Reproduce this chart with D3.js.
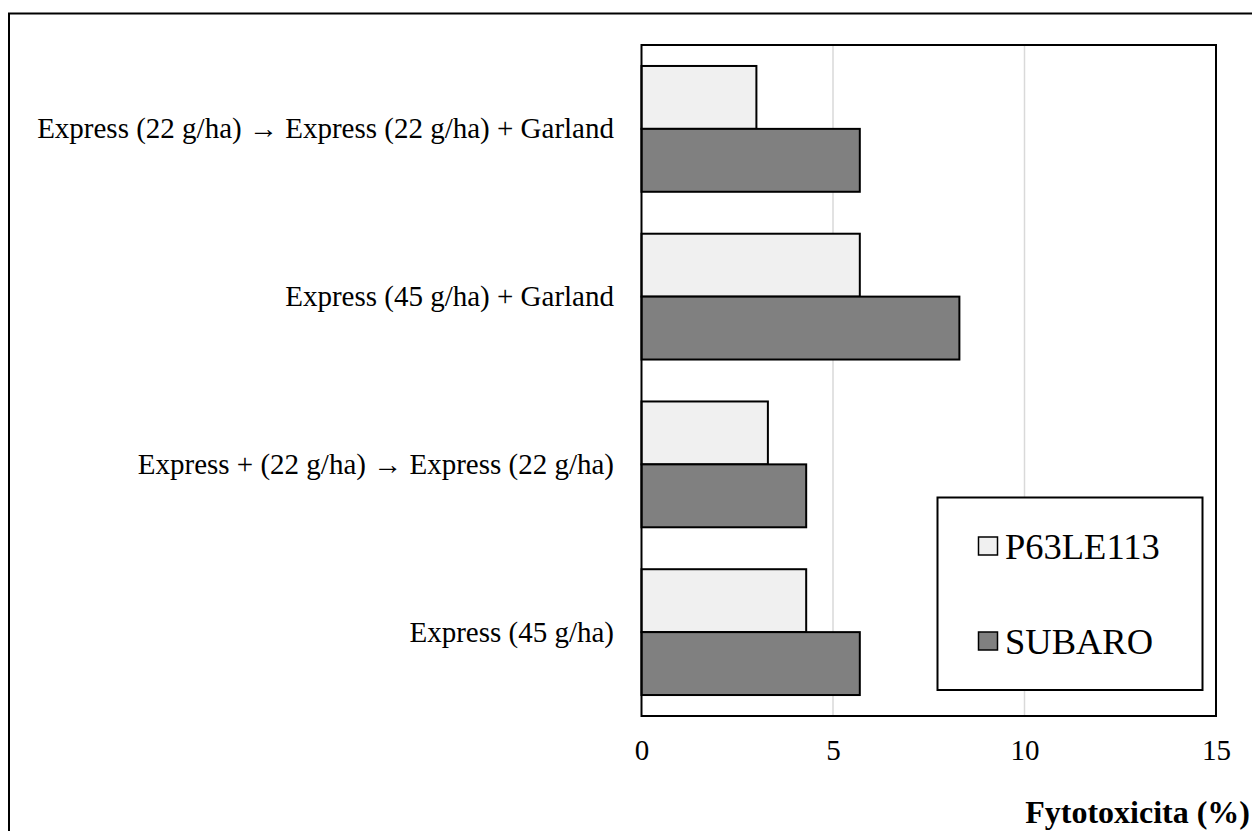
<!DOCTYPE html>
<html>
<head>
<meta charset="utf-8">
<script src="https://cdn.jsdelivr.net/npm/d3@7"></script>
<style>
  html, body { margin: 0; padding: 0; background: #fff; }
  svg { display: block; }
  text { font-family: "Liberation Serif", "Times New Roman", serif; fill: #000; }
</style>
</head>
<body>
<svg id="chart" width="1252" height="831"></svg>
<script>
const categories = [
  "Express (22 g/ha) \u2192 Express (22 g/ha) + Garland",
  "Express (45 g/ha) + Garland",
  "Express + (22 g/ha) \u2192 Express (22 g/ha)",
  "Express (45 g/ha)"
];
const seriesNames = ["P63LE113", "SUBARO"];
const p63le113 = [3.0, 5.7, 3.3, 4.3];
const subaro = [5.7, 8.3, 4.3, 5.7];
const xTicks = [0, 5, 10, 15];
const xTitle = "Fytotoxicita (%)";
const colors = ["#f0f0f0", "#808080"];

const seriesValues = [p63le113, subaro];
const svg = d3.select("#chart");

const plot = { left: 641.5, right: 1216, top: 45, bottom: 716 };

const x = d3.scaleLinear().domain([0, 15]).range([plot.left, plot.right]);
const y = d3.scaleBand().domain(categories).range([plot.top, plot.bottom])
  .paddingInner(0.25).paddingOuter(0.125);
const ySub = d3.scaleBand().domain(seriesNames).range([0, y.bandwidth()]).padding(0);

// outer border
svg.append("rect").attr("x", 9).attr("y", 13.5).attr("width", 1300).attr("height", 900)
  .attr("fill", "none").attr("stroke", "#000").attr("stroke-width", 2);

// gridlines
svg.append("g").selectAll("line").data(xTicks.filter(d => d > 0 && d < 15)).join("line")
  .attr("x1", d => x(d)).attr("x2", d => x(d))
  .attr("y1", plot.top).attr("y2", plot.bottom)
  .attr("stroke", "#d9d9d9").attr("stroke-width", 1.5);

// bars
const rows = categories.map((c, i) => ({ c, vals: seriesNames.map((s, j) => ({ s, v: seriesValues[j][i], j })) }));
const g = svg.append("g");
g.selectAll("g").data(rows).join("g")
  .attr("transform", d => `translate(0,${y(d.c)})`)
  .selectAll("rect").data(d => d.vals).join("rect")
  .attr("x", x(0)).attr("y", d => ySub(d.s))
  .attr("width", d => x(d.v) - x(0)).attr("height", ySub.bandwidth())
  .attr("fill", d => colors[d.j]).attr("stroke", "#000").attr("stroke-width", 2);

// plot frame
svg.append("rect").attr("x", plot.left).attr("y", plot.top)
  .attr("width", plot.right - plot.left).attr("height", plot.bottom - plot.top)
  .attr("fill", "none").attr("stroke", "#000").attr("stroke-width", 2);

// x axis tick labels
const xAxis = d3.axisBottom(x).tickValues(xTicks).tickSize(0).tickPadding(0).tickFormat(d3.format("d"));
const xa = svg.append("g").attr("transform", `translate(0,${plot.bottom})`).call(xAxis);
xa.select(".domain").remove();
xa.selectAll("text").attr("dy", null).attr("y", 44)
  .style("font-family", '"Liberation Serif", serif').style("font-size", "29px").attr("fill", "#000");

// y axis category labels
const yAxis = d3.axisLeft(y).tickSize(0).tickPadding(0);
const ya = svg.append("g").attr("transform", `translate(614,0)`).call(yAxis);
ya.select(".domain").remove();
ya.selectAll("text").attr("x", 0).attr("dy", "0.33em")
  .style("font-family", '"Liberation Serif", serif').style("font-size", "29px").attr("fill", "#000");

// axis title
svg.append("text").attr("x", 1250).attr("y", 823).attr("text-anchor", "end")
  .style("font-size", "32px").style("font-weight", "bold").text(xTitle);

// legend
const lg = svg.append("g");
lg.append("rect").attr("x", 937.5).attr("y", 497.5).attr("width", 265).attr("height", 192.5)
  .attr("fill", "#fff").attr("stroke", "#000").attr("stroke-width", 2);
const legY = [546, 641];
seriesNames.forEach((s, i) => {
  lg.append("rect").attr("x", 978.5).attr("y", legY[i] - 9).attr("width", 19).attr("height", 18)
    .attr("fill", colors[i]).attr("stroke", "#000").attr("stroke-width", 1.5);
  lg.append("text").attr("x", 1005).attr("y", legY[i] + 12.5)
    .style("font-size", "36.5px").text(s);
});
</script>
</body>
</html>
